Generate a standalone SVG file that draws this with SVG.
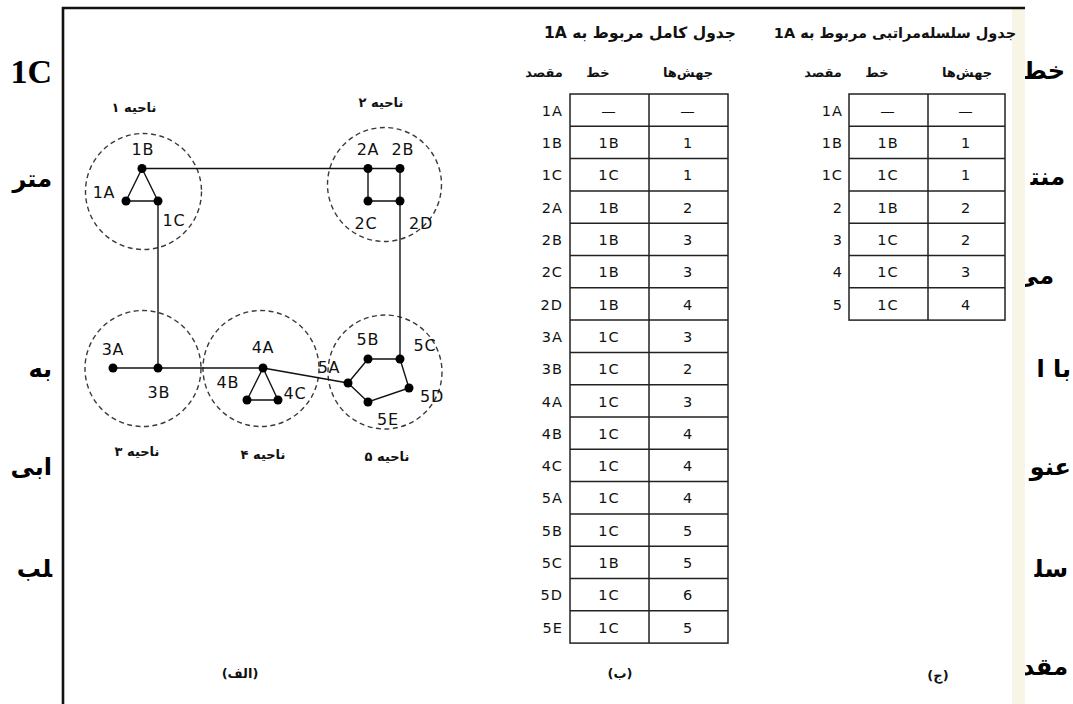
<svg xmlns="http://www.w3.org/2000/svg" width="1073" height="704" viewBox="0 0 1073 704">
  <style>
    .frag { font-family: "DejaVu Sans", sans-serif; font-size: 24px; font-weight: bold; fill: #000; text-anchor: end; }
    .fragL { font-family: "Liberation Serif", serif; font-size: 34px; font-weight: bold; fill: #000; text-anchor: end; }
    .frame { stroke: #111; stroke-width: 2.6; fill: none; }
    .ln { stroke: #111; stroke-width: 1.4; fill: none; }
    .reg { fill: none; stroke: #3a3a3a; stroke-width: 1.4; stroke-dasharray: 5 3.5; }
    .dot { fill: #000; }
    .lab { font-family: "DejaVu Sans", sans-serif; font-size: 16px; fill: #111; text-anchor: middle; letter-spacing: 0.8px; }
    .fa { font-family: "DejaVu Sans", sans-serif; font-size: 13px; font-weight: bold; fill: #111; text-anchor: middle; }
    .title { font-family: "DejaVu Sans", sans-serif; font-size: 15.5px; font-weight: bold; fill: #111; text-anchor: middle; direction: rtl; }
    .title.long { font-size: 14.5px; }
    .tb { stroke: #222; stroke-width: 1.5; fill: none; }
    .cell { font-family: "DejaVu Sans", sans-serif; font-size: 14.5px; fill: #111; text-anchor: middle; letter-spacing: 1px; }
    .rowlab { font-family: "DejaVu Sans", sans-serif; font-size: 14.5px; fill: #111; text-anchor: end; letter-spacing: 1px; }
  </style>

  <rect width="1073" height="704" fill="#fff"/>

  <!-- page text running behind the figure -->
  <g id="page-text">
    <text class="fragL" x="52" y="83">1C</text>
    <text class="frag" x="52" y="187">متر</text>
    <text class="frag" x="52" y="377">به</text>
    <text class="frag" x="52" y="475">ابی</text>
    <text class="frag" x="52" y="577">&#x200D;لب</text>
    <text class="frag" x="1065" y="79">خط&#x200D;</text>
    <text class="frag" x="1065" y="185">منت&#x200D;</text>
    <text class="frag" x="1054" y="284">می</text>
    <text class="frag" x="1071" y="377">با ا</text>
    <text class="frag" x="1071" y="475">عنو</text>
    <text class="frag" x="1068" y="577">سل&#x200D;</text>
    <text class="frag" x="1068" y="675">مقد</text>
  </g>

  <!-- figure sheet -->
  <rect x="63" y="8" width="962" height="700" fill="#fff"/>
  <rect x="1012" y="8" width="13" height="700" fill="#f5f3df" opacity="0.8"/>
  <path class="frame" d="M63,704 V8 H1025"/>

  <!-- (الف) network of regions -->
  <g id="regions">
    <circle class="reg" cx="143.5" cy="191.5" r="58"/>
    <circle class="reg" cx="384.5" cy="184.5" r="57"/>
    <circle class="reg" cx="143" cy="368.5" r="58"/>
    <circle class="reg" cx="261" cy="368.5" r="58"/>
    <circle class="reg" cx="385" cy="372" r="57"/>
    <text class="fa" x="134" y="112">ناحیه ۱</text>
    <text class="fa" x="381" y="107">ناحیه ۲</text>
    <text class="fa" x="137" y="456">ناحیه ۳</text>
    <text class="fa" x="263" y="459">ناحیه ۴</text>
    <text class="fa" x="387" y="461">ناحیه ۵</text>
  </g>

  <g id="connectors">
    <path class="ln" d="M142,168.5 H368"/>
    <path class="ln" d="M142,168.5 L126,201 H158 Z"/>
    <path class="ln" d="M158,201 V368"/>
    <path class="ln" d="M368,168.5 H400 V201 H368 Z"/>
    <path class="ln" d="M400,201 V359"/>
    <path class="ln" d="M113,368 H263"/>
    <path class="ln" d="M263,368 L247,400 H278 Z"/>
    <path class="ln" d="M263,368 L348,383"/>
    <path class="ln" d="M348,383 L368,359 H400 L409,388 L368,402 Z"/>
  </g>

  <g id="n1A"><circle class="dot" cx="126" cy="201" r="4.5"/><text class="lab" x="104" y="198">1A</text></g>
  <g id="n1B"><circle class="dot" cx="142" cy="168.5" r="4.5"/><text class="lab" x="143" y="155">1B</text></g>
  <g id="n1C"><circle class="dot" cx="158" cy="201" r="4.5"/><text class="lab" x="174" y="226">1C</text></g>
  <g id="n2A"><circle class="dot" cx="368" cy="168.5" r="4.5"/><text class="lab" x="368" y="155">2A</text></g>
  <g id="n2B"><circle class="dot" cx="400" cy="168.5" r="4.5"/><text class="lab" x="403" y="155">2B</text></g>
  <g id="n2C"><circle class="dot" cx="368" cy="201" r="4.5"/><text class="lab" x="366" y="229">2C</text></g>
  <g id="n2D"><circle class="dot" cx="400" cy="201" r="4.5"/><text class="lab" x="421" y="229">2D</text></g>
  <g id="n3A"><circle class="dot" cx="113" cy="368" r="4.5"/><text class="lab" x="113" y="355">3A</text></g>
  <g id="n3B"><circle class="dot" cx="158" cy="368" r="4.5"/><text class="lab" x="159" y="398">3B</text></g>
  <g id="n4A"><circle class="dot" cx="263" cy="368" r="4.5"/><text class="lab" x="263" y="353">4A</text></g>
  <g id="n4B"><circle class="dot" cx="247" cy="400" r="4.5"/><text class="lab" x="228" y="388">4B</text></g>
  <g id="n4C"><circle class="dot" cx="278" cy="400" r="4.5"/><text class="lab" x="295" y="399">4C</text></g>
  <g id="n5A"><circle class="dot" cx="348" cy="383" r="4.5"/><text class="lab" x="329" y="373">5A</text></g>
  <g id="n5B"><circle class="dot" cx="368" cy="359" r="4.5"/><text class="lab" x="368" y="345">5B</text></g>
  <g id="n5C"><circle class="dot" cx="400" cy="359" r="4.5"/><text class="lab" x="425" y="351">5C</text></g>
  <g id="n5D"><circle class="dot" cx="409" cy="388" r="4.5"/><text class="lab" x="432" y="402">5D</text></g>
  <g id="n5E"><circle class="dot" cx="368" cy="402" r="4.5"/><text class="lab" x="388" y="425">5E</text></g>

  <!-- (ب) full routing table of 1A -->
  <g id="table-full">
    <text class="title" x="640" y="38">جدول کامل مربوط به 1A</text>
    <text class="fa" x="544" y="77">مقصد</text>
    <text class="fa" x="598" y="77">خط</text>
    <text class="fa" x="688" y="77">جهش&#x200C;ها</text>
    <rect class="tb" x="570" y="94" width="158" height="549.1"/>
    <path class="tb" d="M649,94 V643.1 M570,126.3 H728 M570,158.6 H728 M570,190.9 H728 M570,223.2 H728 M570,255.5 H728 M570,287.8 H728 M570,320.1 H728 M570,352.4 H728 M570,384.7 H728 M570,417 H728 M570,449.3 H728 M570,481.6 H728 M570,513.9 H728 M570,546.2 H728 M570,578.5 H728 M570,610.8 H728"/>
    <g class="rowlab">
      <text x="563" y="115.5">1A</text><text x="563" y="148">1B</text><text x="563" y="180">1C</text>
      <text x="563" y="212.5">2A</text><text x="563" y="245">2B</text><text x="563" y="277">2C</text>
      <text x="563" y="309.5">2D</text><text x="563" y="341.5">3A</text><text x="563" y="374">3B</text>
      <text x="563" y="406.5">4A</text><text x="563" y="438.5">4B</text><text x="563" y="471">4C</text>
      <text x="563" y="503">5A</text><text x="563" y="535.5">5B</text><text x="563" y="568">5C</text>
      <text x="563" y="600">5D</text><text x="563" y="632.5">5E</text>
    </g>
    <g class="cell">
      <text x="609" y="115.5">—</text><text x="609" y="148">1B</text><text x="609" y="180">1C</text>
      <text x="609" y="212.5">1B</text><text x="609" y="245">1B</text><text x="609" y="277">1B</text>
      <text x="609" y="309.5">1B</text><text x="609" y="341.5">1C</text><text x="609" y="374">1C</text>
      <text x="609" y="406.5">1C</text><text x="609" y="438.5">1C</text><text x="609" y="471">1C</text>
      <text x="609" y="503">1C</text><text x="609" y="535.5">1C</text><text x="609" y="568">1B</text>
      <text x="609" y="600">1C</text><text x="609" y="632.5">1C</text>
    </g>
    <g class="cell">
      <text x="688" y="115.5">—</text><text x="688" y="148">1</text><text x="688" y="180">1</text>
      <text x="688" y="212.5">2</text><text x="688" y="245">3</text><text x="688" y="277">3</text>
      <text x="688" y="309.5">4</text><text x="688" y="341.5">3</text><text x="688" y="374">2</text>
      <text x="688" y="406.5">3</text><text x="688" y="438.5">4</text><text x="688" y="471">4</text>
      <text x="688" y="503">4</text><text x="688" y="535.5">5</text><text x="688" y="568">5</text>
      <text x="688" y="600">6</text><text x="688" y="632.5">5</text>
    </g>
  </g>

  <!-- (ج) hierarchical routing table of 1A -->
  <g id="table-hier">
    <text class="title long" x="895" y="38">جدول سلسله&#x200C;مراتبی مربوط به 1A</text>
    <text class="fa" x="823" y="77">مقصد</text>
    <text class="fa" x="877" y="77">خط</text>
    <text class="fa" x="967" y="77">جهش&#x200C;ها</text>
    <rect class="tb" x="849" y="94" width="156" height="226.1"/>
    <path class="tb" d="M928,94 V320.1 M849,126.3 H1005 M849,158.6 H1005 M849,190.9 H1005 M849,223.2 H1005 M849,255.5 H1005 M849,287.8 H1005"/>
    <g class="rowlab">
      <text x="843" y="115.5">1A</text><text x="843" y="148">1B</text><text x="843" y="180">1C</text>
      <text x="843" y="212.5">2</text><text x="843" y="245">3</text><text x="843" y="277">4</text>
      <text x="843" y="309.5">5</text>
    </g>
    <g class="cell">
      <text x="888" y="115.5">—</text><text x="888" y="148">1B</text><text x="888" y="180">1C</text>
      <text x="888" y="212.5">1B</text><text x="888" y="245">1C</text><text x="888" y="277">1C</text>
      <text x="888" y="309.5">1C</text>
    </g>
    <g class="cell">
      <text x="966" y="115.5">—</text><text x="966" y="148">1</text><text x="966" y="180">1</text>
      <text x="966" y="212.5">2</text><text x="966" y="245">2</text><text x="966" y="277">3</text>
      <text x="966" y="309.5">4</text>
    </g>
  </g>

  <g id="captions">
    <text class="fa" x="240" y="678">(الف)</text>
    <text class="fa" x="620" y="678">(ب)</text>
    <text class="fa" x="938" y="680">(ج)</text>
  </g>
</svg>
